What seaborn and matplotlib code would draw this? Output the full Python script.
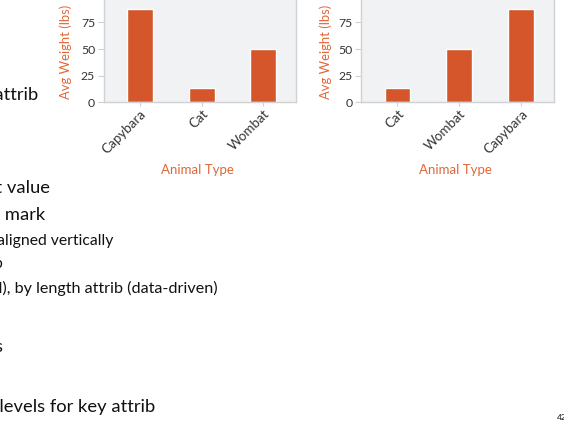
import matplotlib
matplotlib.use("Agg")
import matplotlib.pyplot as plt
import seaborn as sns
import pandas as pd

# Data: average weight per animal type
animals = ["Capybara", "Cat", "Wombat"]
avg_weight_lbs = [87, 14, 50]

# Orderings for the two charts
order_alpha = ["Capybara", "Cat", "Wombat"]
order_by_value = ["Cat", "Wombat", "Capybara"]

y_ticks = [0, 25, 50, 75, 100]

df = pd.DataFrame({"Animal Type": animals, "Avg Weight (lbs)": avg_weight_lbs})

sns.set_theme(style="white")
plt.rcParams["font.family"] = ["Lato", "DejaVu Sans"]

W, H = 564, 423
fig = plt.figure(figsize=(W / 100, H / 100), dpi=100)
fig.patch.set_facecolor("white")

BAR = "#d4562a"
LABEL = "#e0673a"
TICK = "#333333"
SPINE = "#cfd1d4"
BG = "#f1f2f4"


def px_rect(x0, x1, ytop, ybot):
    return [x0 / W, 1 - ybot / H, (x1 - x0) / W, (ybot - ytop) / H]


def bar_panel(rect, order, ylabel_x, xlabel_x):
    ax = fig.add_axes(rect)
    sns.barplot(data=df, x="Animal Type", y="Avg Weight (lbs)", order=order,
                color=BAR, saturation=1, width=0.42, ax=ax)
    ax.set_facecolor(BG)
    ax.set_ylim(0, 100)
    ax.set_xlim(-0.59, 2.53)
    ax.set_yticks(y_ticks)
    ax.set_yticklabels([str(v) for v in y_ticks], fontsize=8.8, color=TICK)
    ax.tick_params(axis="y", length=4, width=0.8, color=SPINE, pad=2, left=True)
    ax.tick_params(axis="x", length=3, width=0.8, color=SPINE, pad=0.5, bottom=True)
    for lab in ax.get_xticklabels():
        lab.set_rotation(45)
        lab.set_ha("right")
        lab.set_rotation_mode("anchor")
        lab.set_fontsize(9.6)
        lab.set_color(TICK)
    for s in ax.spines.values():
        s.set_color(SPINE)
        s.set_linewidth(1.0)
    ax.set_ylabel("Avg Weight (lbs)", fontsize=9.4, color=LABEL)
    ax.yaxis.set_label_coords(ylabel_x, 0.47)
    ax.set_xlabel("Animal Type", fontsize=9.5, color=LABEL)
    ax.xaxis.set_label_coords(xlabel_x, -0.571)
    return ax


bar_panel(px_rect(103.5, 296, -4.4, 102.5), order_alpha, -0.163, 0.486)
bar_panel(px_rect(361, 554, -4.4, 102.5), order_by_value, -0.152, 0.487)

# Slide body text, running off the left edge
TXT = "#111111"
lines = [
    ("1 categ attrib, 1 quant attrib", 38, 100, 13.2),
    ("length to express quant value", 50, 193, 13.2),
    ("spatial regions: one per mark", 45, 220, 13.2),
    ("separated horizontally, aligned vertically", 113, 245, 11.3),
    ("ordered by quant attrib", 3, 268, 11.3),
    ("by label (alphabetical), by length attrib (data-driven)", 218, 293, 11.6),
    ("compare, lookup values", 3, 352, 13.2),
    ("dozens to hundreds of levels for key attrib", 155, 412, 13.2),
]
for text, x_end, y_base, size in lines:
    fig.text(x_end / W, 1 - y_base / H, text, ha="right", va="baseline",
             fontsize=size, color=TXT)

fig.text(557 / W, 1 - 420 / H, "42", ha="left", va="baseline", fontsize=6, color=TXT)

fig.savefig("out.png", dpi=100)
